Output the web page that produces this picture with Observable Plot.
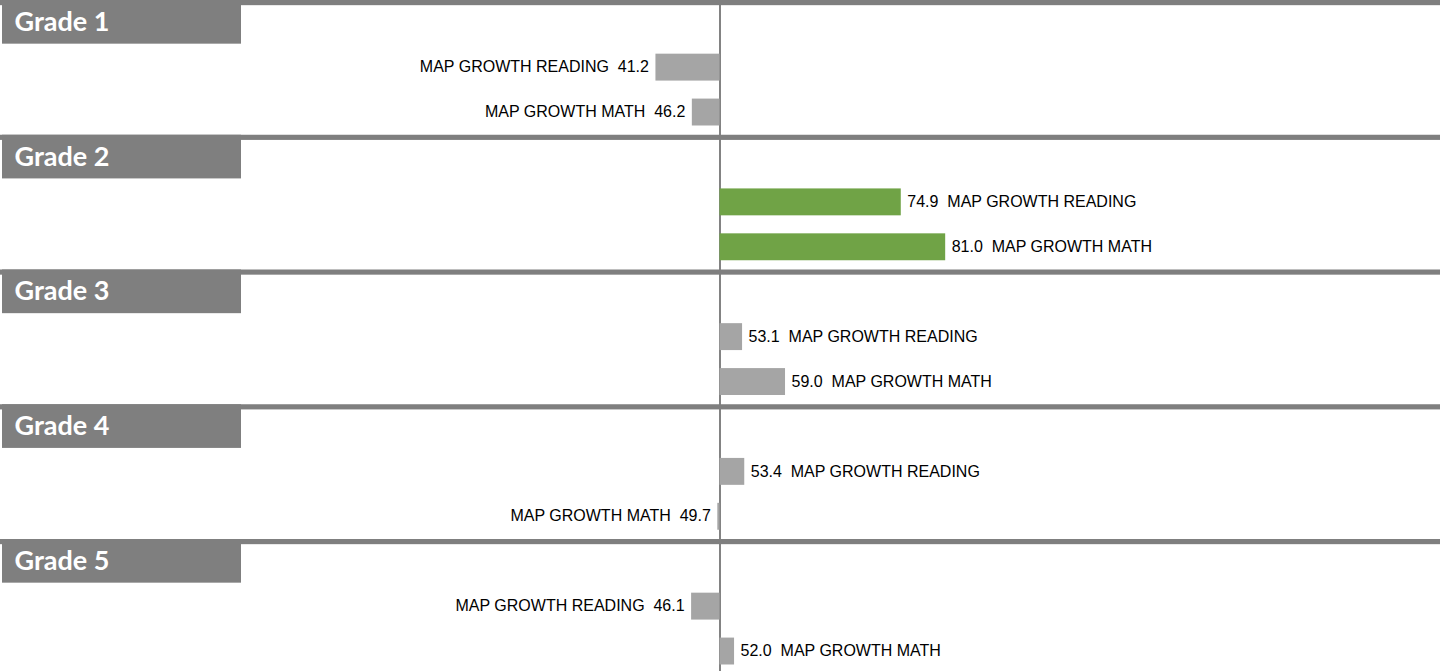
<!DOCTYPE html>
<html>
<head>
<meta charset="utf-8">
<script src="https://cdn.jsdelivr.net/npm/d3@7"></script>
<script src="https://cdn.jsdelivr.net/npm/@observablehq/plot@0.6"></script>
<style>
  html, body { margin: 0; padding: 0; background: #fff; }
  #chart svg { display: block; }
</style>
</head>
<body>
<div id="chart"></div>
<script>
// ---- data ----
const grades = ["Grade 1", "Grade 2", "Grade 3", "Grade 4", "Grade 5"];
const subjects = ["MAP GROWTH READING", "MAP GROWTH MATH"];
const readingValues = [41.2, 74.9, 53.1, 53.4, 46.1];
const mathValues = [46.2, 81.0, 59.0, 49.7, 52.0];
const baseline = 50;
const highlightThreshold = 60;

// ---- layout / style ----
const W = 1443, H = 671;
const pxPerUnit = 7.28;
const baselinePx = 719.5;
const xDomain = [baseline - baselinePx / pxPerUnit, baseline + (W - baselinePx) / pxPerUnit];
const headerBoxPx = [2, 241];
const pxToX = px => xDomain[0] + px / pxPerUnit;

const rows = [];
grades.forEach((g, i) => {
  rows.push({key: g + "|head", grade: g, type: "head"});
  rows.push({key: g + "|" + subjects[0], grade: g, type: "bar", subject: subjects[0], value: readingValues[i]});
  rows.push({key: g + "|" + subjects[1], grade: g, type: "bar", subject: subjects[1], value: mathValues[i]});
});
const heads = rows.filter(d => d.type === "head");
const bars = rows.filter(d => d.type === "bar");
const nb = "\u00a0\u00a0";
const fmt = v => v.toFixed(1);

const plot = Plot.plot({
  width: W,
  height: H,
  margin: 0,
  x: {domain: xDomain, axis: null},
  y: {type: "band", domain: rows.map(d => d.key), range: [-0.75, 673], padding: 0, round: false, axis: null},
  marks: [
    Plot.ruleX([baseline], {stroke: "#404040", strokeWidth: 1.3}),
    Plot.barX(bars, {
      y: "key", x1: baseline, x2: "value",
      fill: d => d.value >= highlightThreshold ? "#70a346" : "#a5a5a5",
      insetTop: 9.5, insetBottom: 8.5
    }),
    Plot.text(bars.filter(d => d.value >= baseline), {
      y: "key", x: "value", dx: 6, textAnchor: "start",
      text: d => fmt(d.value) + nb + d.subject,
      fontFamily: "'Liberation Sans', Arial, sans-serif", fontSize: 16, fill: "#000"
    }),
    Plot.text(bars.filter(d => d.value < baseline), {
      y: "key", x: "value", dx: -7, textAnchor: "end",
      text: d => d.subject + nb + fmt(d.value),
      fontFamily: "'Liberation Sans', Arial, sans-serif", fontSize: 16, fill: "#000"
    }),
    // header band line
    Plot.barX(heads, {
      y: "key", x1: xDomain[0], x2: pxToX(1440),
      fill: "#7f7f7f", insetTop: 0.75, insetBottom: 39
    }),
    // header label box
    Plot.barX(heads, {
      y: "key", x1: pxToX(headerBoxPx[0]), x2: pxToX(headerBoxPx[1]),
      fill: "#7f7f7f", insetTop: 0.75, insetBottom: 0.5
    }),
    Plot.text(heads, {
      y: "key", x: pxToX(14), textAnchor: "start", dy: 0,
      text: "grade", fill: "#fff",
      fontFamily: "Lato, 'Open Sans', sans-serif", fontWeight: "bold", fontSize: 27
    })
  ]
});
document.getElementById("chart").appendChild(plot);
</script>
</body>
</html>
